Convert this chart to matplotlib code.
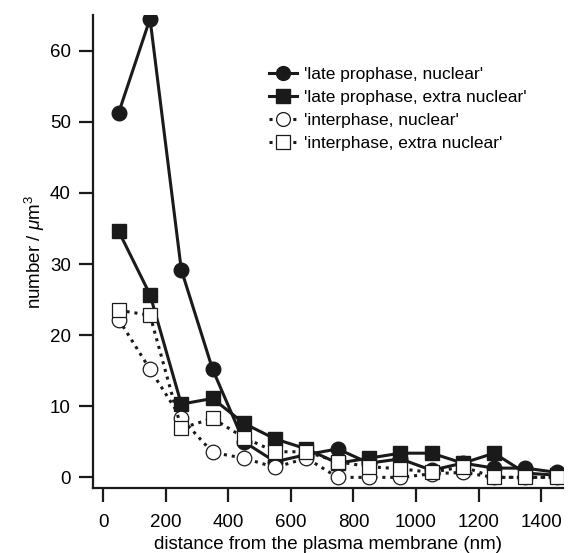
import numpy as np
import matplotlib.pyplot as plt

plt.rcParams['font.family'] = ['Liberation Sans', 'DejaVu Sans']
plt.rcParams['mathtext.fontset'] = 'custom'
plt.rcParams['mathtext.rm'] = 'Liberation Sans'
plt.rcParams['mathtext.it'] = 'Liberation Sans:italic'

# distance bins (nm)
distance = [50, 150, 250, 350, 450, 550, 650, 750, 850, 950, 1050, 1150, 1250, 1350, 1450]

# number / um^3
late_nuclear = [51.3, 64.5, 29.2, 15.2, 5.0, 2.2, 3.2, 4.0, 2.0, 2.6, 1.0, 2.0, 1.3, 1.3, 0.7]
late_extra = [34.6, 25.7, 10.3, 11.1, 7.6, 5.4, 4.0, 2.0, 2.7, 3.4, 3.4, 2.0, 3.4, 0.6, 0.3]
inter_nuclear = [22.2, 15.2, 8.3, 3.5, 2.7, 1.4, 2.7, 0.0, 0.0, 0.0, 0.5, 0.7, 0.0, 0.0, 0.0]
inter_extra = [23.5, 22.8, 6.9, 8.3, 5.6, 3.6, 3.6, 2.2, 1.5, 1.2, 0.7, 1.5, 0.0, 0.0, 0.0]

labels = ["'late prophase, nuclear'", "'late prophase, extra nuclear'",
          "'interphase, nuclear'", "'interphase, extra nuclear'"]

fig = plt.figure(figsize=(5.71, 5.53), dpi=100)
ax = fig.add_axes([0.163, 0.1175, 0.823, 0.855])

ms = 10.5
k = '#1a1a1a'
ax.plot(distance, late_nuclear, '-o', color=k, lw=2.2, ms=ms, mfc=k, mec=k, label=labels[0])
ax.plot(distance, late_extra, '-s', color=k, lw=2.2, ms=ms, mfc=k, mec=k, label=labels[1])
ax.plot(distance, inter_nuclear, 'o', ls=(0, (1, 1.6)), color=k, lw=2.2, ms=ms, mfc='white', mec=k, mew=0.9, label=labels[2])
ax.plot(distance, inter_extra, 's', ls=(0, (1, 1.6)), color=k, lw=2.2, ms=ms, mfc='white', mec=k, mew=0.9, label=labels[3])

ax.set_xlim(-32, 1470)
ax.set_ylim(-1.5, 65)
ax.set_xticks(np.arange(0, 1401, 200))
ax.set_yticks(np.arange(0, 61, 10))

for s in ['top', 'right']:
    ax.spines[s].set_visible(False)
for s in ['left', 'bottom']:
    ax.spines[s].set_linewidth(1.6)
    ax.spines[s].set_color(k)
ax.tick_params(direction='out', length=10, width=1.6, color=k, labelsize=13.5)
ax.tick_params(axis='x', pad=9)
ax.tick_params(axis='y', pad=6)

ax.set_xlabel('distance from the plasma membrane (nm)', fontsize=13.5, labelpad=3)
ax.set_ylabel(r'number / $\mathit{\mu}$m$^3$', fontsize=13.5, labelpad=2)

leg = ax.legend(loc='upper left', bbox_to_anchor=(0.36, 0.905), frameon=False,
                fontsize=12.5, handlelength=1.6, handletextpad=0.4, labelspacing=0.45,
                markerscale=0.95, borderaxespad=0)

fig.savefig('out.png', dpi=100)
